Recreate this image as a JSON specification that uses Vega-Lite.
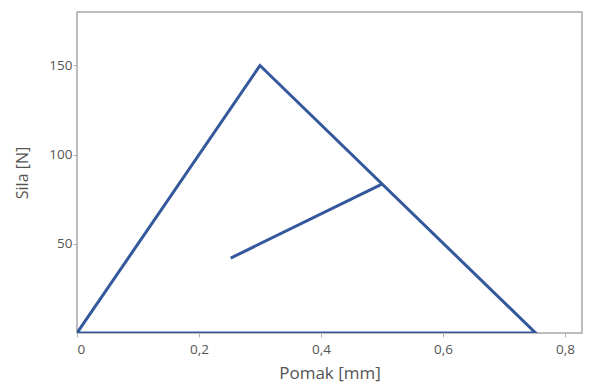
{
  "$schema": "https://vega.github.io/schema/vega-lite/v6.json",
  "width": 505,
  "height": 321,
  "autosize": {"type": "none"},
  "padding": {"left": 77, "top": 12, "right": 15, "bottom": 51},
  "background": "white",
  "config": {
    "view": {"stroke": "#a8a8a8", "strokeWidth": 1.5},
    "font": "Open Sans",
    "axis": {
      "grid": false,
      "domain": false,
      "tickColor": "#b0b0b0",
      "tickSize": 4,
      "labelColor": "#555555",
      "labelFontSize": 13.5,
      "titleColor": "#555555",
      "titleFontSize": 16,
      "titleFontWeight": "normal"
    }
  },
  "data": {
    "values": [
      {"series": "a", "order": 1, "x": 0, "y": 0},
      {"series": "a", "order": 2, "x": 0.3, "y": 150},
      {"series": "a", "order": 3, "x": 0.752, "y": 0},
      {"series": "a", "order": 4, "x": 0, "y": 0},
      {"series": "b", "order": 1, "x": 0.252, "y": 42},
      {"series": "b", "order": 2, "x": 0.5, "y": 83.5}
    ]
  },
  "mark": {"type": "line", "color": "#34589c", "strokeWidth": 3, "clip": true},
  "encoding": {
    "detail": {"field": "series"},
    "order": {"field": "order", "type": "quantitative"},
    "x": {
      "field": "x",
      "type": "quantitative",
      "scale": {"domain": [0, 0.828], "nice": false, "zero": false},
      "axis": {
        "title": "Pomak [mm]",
        "titleFontSize": 17,
        "values": [0, 0.2, 0.4, 0.6, 0.8],
        "labelExpr": "datum.value == 0 ? '0' : replace(format(datum.value, '.1f'), '.', ',')",
        "labelPadding": 5,
        "titlePadding": 10
      }
    },
    "y": {
      "field": "y",
      "type": "quantitative",
      "scale": {"domain": [0, 180], "nice": false},
      "axis": {
        "title": "Sila [N]",
        "values": [50, 100, 150],
        "labelPadding": 1,
        "titlePadding": 18
      }
    }
  }
}
